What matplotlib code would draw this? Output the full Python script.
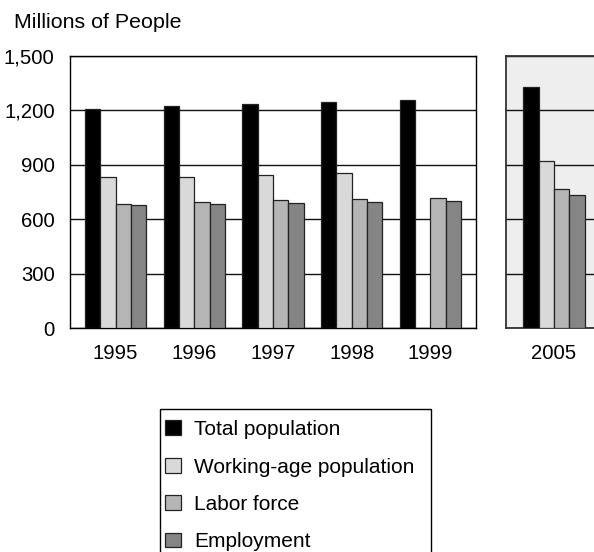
import numpy as np
import matplotlib
matplotlib.use("Agg")
import matplotlib.pyplot as plt
from matplotlib.patches import Patch, Rectangle

plt.rcParams["font.family"] = ["Liberation Sans", "DejaVu Sans"]

# ---- data (millions of people) ----
YEARS_HIST = ["1995", "1996", "1997", "1998", "1999"]
YEARS_PROJ = ["2005"]

SERIES = ["Total population", "Working-age population", "Labor force", "Employment"]
COLORS = ["#000000", "#d9d9d9", "#b5b5b5", "#858585"]

total_hist = [1210, 1223, 1235, 1246, 1257]
working_hist = [831, 835, 844, 855, np.nan]
labor_hist = [684, 695, 704, 711, 719]
employ_hist = [677, 684, 689, 693, 702]

total_proj = [1329]
working_proj = [921]
labor_proj = [767]
employ_proj = [732]

YTICKS = [0, 300, 600, 900, 1200, 1500]
YTICK_LABELS = ["0", "300", "600", "900", "1,200", "1,500"]

BAR_W = 0.195
FS_TICK = 14.6


def draw_groups(ax, years, series_vals):
    x = np.arange(len(years))
    n = len(series_vals)
    for i, vals in enumerate(series_vals):
        off = (i - (n - 1) / 2) * BAR_W
        ax.bar(x + off, vals, BAR_W, color=COLORS[i], edgecolor="#222222",
               linewidth=0.9, zorder=3)
    ax.set_xticks(x)
    ax.set_xticklabels(years, fontsize=FS_TICK)
    ax.set_ylim(0, 1500)
    ax.set_yticks(YTICKS)
    ax.yaxis.grid(True, color="#111111", linewidth=1.0, zorder=0)
    ax.set_axisbelow(True)
    ax.tick_params(axis="y", length=0, pad=11)
    ax.tick_params(axis="x", length=0, pad=11.5)


fig = plt.figure(figsize=(5.94, 5.52), dpi=100)
W, H = 594, 552

# historical panel
ax1 = fig.add_axes([70 / W, 1 - 328 / H, 406 / W, 272 / H])
draw_groups(ax1, YEARS_HIST,
            [total_hist, working_hist, labor_hist, employ_hist])
ax1.set_xlim(-0.58, len(YEARS_HIST) - 1 + 0.58)
ax1.set_yticklabels(YTICK_LABELS, fontsize=FS_TICK)
for s in ax1.spines.values():
    s.set_color("#000000")
    s.set_linewidth(1.0)

# projection panel (shaded, runs off the right edge)
ax2 = fig.add_axes([506 / W, 1 - 328 / H, 96 / W, 272 / H])
ax2.set_facecolor("#eeeeee")
draw_groups(ax2, YEARS_PROJ,
            [total_proj, working_proj, labor_proj, employ_proj])
ax2.set_xlim(-0.61, 0.61)
ax2.set_yticklabels([])
for s in ax2.spines.values():
    s.set_color("#333333")
    s.set_linewidth(1.3)

fig.text(14 / W, 1 - 22 / H, "Millions of People", fontsize=15.4,
         ha="left", va="center")

# legend entries without their own frame; the box is drawn separately
# so it can run off the bottom of the figure
handles = [Patch(facecolor=c, edgecolor="#222222", linewidth=0.9) for c in COLORS]
fig.legend(handles, SERIES, loc="upper left",
           bbox_to_anchor=(160 / W, 1 - 415 / H),
           fontsize=15, frameon=False,
           handlelength=0.75, handleheight=0.72, handletextpad=0.62,
           labelspacing=0.88, borderpad=0.25, borderaxespad=0)
fig.patches.append(Rectangle((160 / W, -0.05), 271 / W, (552 - 409) / H + 0.05,
                             transform=fig.transFigure, fill=False,
                             edgecolor="#000000", linewidth=1.0))

fig.savefig("out.png", dpi=100)
